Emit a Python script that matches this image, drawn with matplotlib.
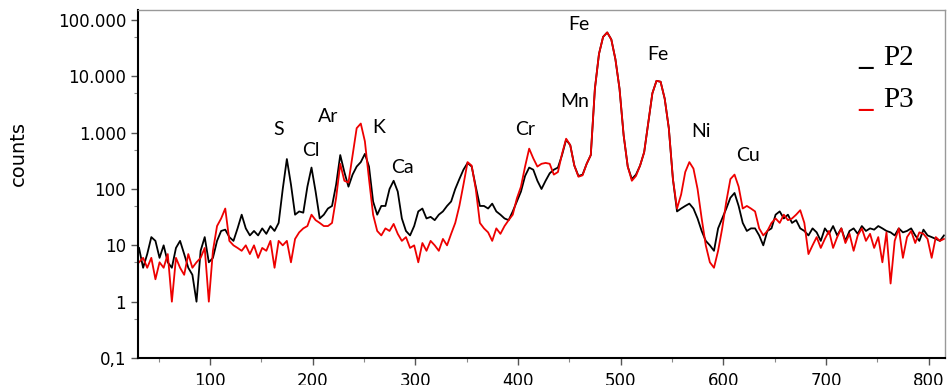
import numpy as np
import matplotlib.pyplot as plt
from matplotlib.ticker import FixedLocator, FuncFormatter, LogLocator, MultipleLocator, NullFormatter

# channel axis (every 4th channel)
channel = np.arange(31, 816, 4)

p2_counts = [
    9, 4, 7, 14, 12, 6, 10, 5, 4, 9,                              # 31..67
    12, 7, 4, 3, 1, 8, 14, 5, 6, 12,                              # 71..107
    18, 19, 14, 12, 20, 35, 20, 15, 18, 15,                       # 111..147
    20, 16, 22, 18, 25, 100, 340, 120, 35, 40,                    # 151..187
    38, 110, 240, 90, 30, 35, 45, 50, 120, 400,                   # 191..227
    200, 110, 180, 250, 300, 420, 250, 60, 35, 50,                # 231..267
    50, 100, 140, 90, 30, 18, 15, 22, 40, 45,                     # 271..307
    30, 32, 28, 35, 40, 50, 60, 100, 150, 220,                    # 311..347
    290, 250, 110, 50, 50, 45, 55, 40, 35, 30,                    # 351..387
    28, 40, 60, 90, 170, 240, 220, 140, 100, 140,                 # 391..427
    190, 220, 240, 400, 750, 600, 260, 170, 180, 280,             # 431..467
    400, 6000, 25000, 50000, 60000, 45000, 20000, 6000, 900, 250, # 471..507
    150, 180, 260, 450, 1500, 5000, 8300, 8000, 4000, 1200,       # 511..547
    150, 40, 45, 50, 55, 45, 30, 18, 12, 10,                      # 551..587
    8, 20, 30, 45, 70, 85, 50, 25, 18, 20,                        # 591..627
    20, 15, 10, 18, 20, 35, 40, 30, 35, 25,                       # 631..667
    28, 20, 18, 15, 20, 17, 12, 20, 16, 22,                       # 671..707
    15, 20, 12, 18, 20, 16, 22, 18, 20, 19,                       # 711..747
    22, 20, 18, 17, 15, 20, 17, 18, 20, 15,                       # 751..787
    12, 19, 15, 14, 13, 12, 15,                                   # 791..815
]

p3_counts = [
    5, 6, 4, 6, 2.5, 5, 4, 7, 1, 6,
    4, 3, 7, 4, 5, 6, 9, 1, 8, 22,
    30, 45, 12, 10, 9, 8, 10, 7, 10, 6,
    9, 8, 12, 4, 12, 10, 12, 5, 13, 17,
    20, 22, 35, 28, 25, 22, 22, 25, 70, 280,
    140, 130, 400, 1200, 1450, 700, 150, 35, 18, 15,
    20, 18, 24, 16, 12, 14, 9, 10, 5, 11,
    8, 12, 10, 8, 13, 10, 16, 25, 50, 120,
    300, 260, 100, 25, 20, 17, 12, 20, 16, 22,
    28, 35, 68, 110, 250, 520, 350, 250, 280, 290,
    280, 180, 200, 420, 780, 600, 260, 165, 175, 280,
    400, 6000, 25000, 50000, 60000, 45000, 20000, 6000, 900, 250,
    140, 170, 260, 450, 1500, 5000, 8300, 8000, 4000, 1200,
    150, 45, 80, 200, 300, 230, 100, 30, 10, 5,
    4, 8, 20, 60, 150, 180, 110, 45, 50, 45,
    40, 20, 15, 18, 25, 30, 25, 35, 28, 30,
    35, 42, 25, 7, 10, 14, 9, 13, 18, 9,
    14, 20, 11, 16, 8, 15, 20, 12, 16, 9,
    14, 5, 17, 2.1, 12, 20, 6, 14, 18, 11,
    17, 16, 13, 6, 14, 12, 13,
]

# peak labels
peak_names = ["S", "Cl", "Ar", "K", "Ca", "Cr", "Mn", "Fe", "Fe", "Ni", "Cu"]
peak_x = [167, 198, 215, 264, 288, 407, 455, 459, 536, 578, 624]
peak_y = [1120, 490, 1900, 1220, 237, 1120, 3500, 82000, 24000, 1030, 400]

y_ticks = [0.1, 1, 10, 100, 1000, 10000, 100000]
y_labels = ["0,1", "1", "10", "100", "1.000", "10.000", "100.000"]

fig = plt.figure(figsize=(9.47, 3.85), dpi=100)
ax = fig.add_axes([0.1457, 0.070, 0.8522, 0.904])

ax.plot(channel, p2_counts, color="black", lw=1.3)
ax.plot(channel, p3_counts, color="#ee0000", lw=1.3)

ax.set_yscale("log")
ax.set_xlim(30, 816)
ax.set_ylim(0.1, 1.5e5)

ax.yaxis.set_major_locator(FixedLocator(y_ticks))
ax.yaxis.set_major_formatter(FuncFormatter(lambda v, pos: y_labels[y_ticks.index(v)] if v in y_ticks else ""))
ax.yaxis.set_minor_locator(LogLocator(base=10, subs=[5.0]))
ax.yaxis.set_minor_formatter(NullFormatter())
ax.xaxis.set_major_locator(MultipleLocator(100))
ax.xaxis.set_minor_locator(MultipleLocator(50))

ax.tick_params(axis="both", which="major", labelsize=12, length=5, width=1, color="#555555")
ax.tick_params(axis="both", which="minor", length=3, width=0.8, color="#888888")
ax.tick_params(axis="x", pad=5)

for side in ["left", "bottom"]:
    ax.spines[side].set_color("black")
    ax.spines[side].set_linewidth(1.5)
for side in ["top", "right"]:
    ax.spines[side].set_color("#999999")
    ax.spines[side].set_linewidth(1.0)

fig.text(0.019, 0.60, "counts", rotation=90, ha="center", va="center", fontsize=14)

for name, px, py in zip(peak_names, peak_x, peak_y):
    ax.text(px, py, name, ha="center", va="center", fontsize=14, family="Lato")

# hand-made legend: coloured underscore + serif label
legend_names = ["P2", "P3"]
legend_colors = ["black", "#ee0000"]
legend_rows = [0.842, 0.721]
for name, col, yy in zip(legend_names, legend_colors, legend_rows):
    ax.text(0.901, yy, "_", transform=ax.transAxes, color=col, fontsize=21,
            family="Liberation Serif", ha="center", va="baseline", fontweight="bold")
    ax.text(0.923, yy, name, transform=ax.transAxes, color="black", fontsize=21,
            family="Liberation Serif", ha="left", va="baseline")

fig.savefig("out.png", dpi=100)
